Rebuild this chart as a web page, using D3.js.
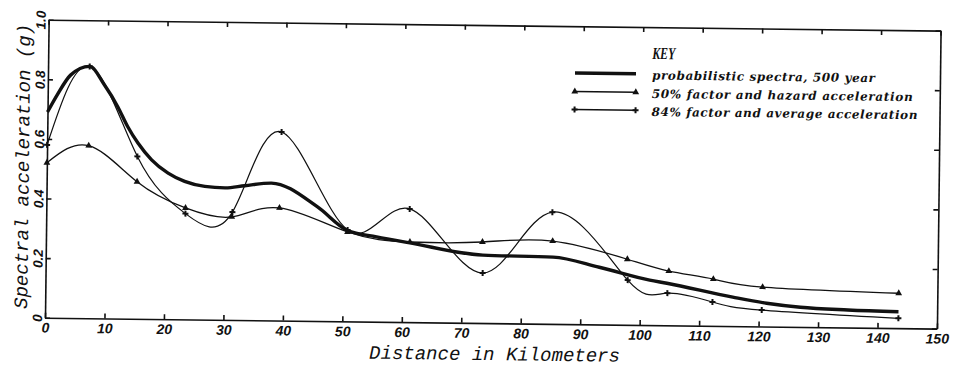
<!DOCTYPE html>
<html>
<head>
<meta charset="utf-8">
<script src="https://cdn.jsdelivr.net/npm/d3@7"></script>
<style>
  body { margin: 0; background: #fff; }
  svg { display: block; }
  .tick text { font-family: "Liberation Sans", Arial, sans-serif; font-style: italic; font-weight: bold; font-size: 14px; fill: #111; }
  .axis path, .axis line { stroke: #111; stroke-width: 1.6; }
  .title { font-family: "Liberation Mono", "Courier New", monospace; font-style: italic; font-size: 19px; fill: #111; }
  .key { font-family: "DejaVu Serif", serif; font-style: italic; font-weight: bold; font-size: 12px; fill: #111; }
</style>
</head>
<body>
<script>
// Data (distance in km, spectral acceleration in g).
const probKm = [0, 1.6, 3.8, 7, 9.5, 11.8, 13.5, 15.3, 17.6, 20.4, 23.2, 26.6, 30, 33.3, 37.8, 45.6, 50.7, 55.6, 61.2, 73.5, 85.3, 93.1, 101.6, 104.5, 115.6, 121.3, 127, 135, 143.5]
const probG = [0.69, 0.748, 0.815, 0.845, 0.784, 0.711, 0.645, 0.589, 0.534, 0.49, 0.463, 0.447, 0.443, 0.451, 0.461, 0.383, 0.305, 0.285, 0.266, 0.228, 0.224, 0.192, 0.151, 0.141, 0.097, 0.078, 0.066, 0.059, 0.055]

const hazKm = [0, 7, 15.2, 23.4, 31.2, 39.2, 50.7, 61.2, 73.4, 85.2, 97.8, 104.8, 112.3, 120.6, 143.5]
const hazG = [0.52, 0.579, 0.46, 0.374, 0.346, 0.378, 0.30, 0.269, 0.272, 0.278, 0.22, 0.182, 0.157, 0.132, 0.117]

const avgKm = [0, 7, 15.2, 23.4, 31.3, 39.4, 50.7, 61.1, 73.5, 85.1, 97.9, 104.6, 112.2, 120.5, 143.5]
const avgG = [0.58, 0.845, 0.545, 0.355, 0.362, 0.633, 0.307, 0.38, 0.168, 0.375, 0.15, 0.108, 0.08, 0.055, 0.033]

const xTicks = [0, 10, 20, 30, 40, 50, 60, 70, 80, 90, 100, 110, 120, 130, 140, 150]
const yTicks = [0, 0.2, 0.4, 0.6, 0.8, 1.0]
const keyLabels = ['probabilistic spectra, 500 year', '50% factor and hazard acceleration', '84% factor and average acceleration']

// Plot frame (the scan is tilted a little, so the whole frame is rotated).
const origin = { x: 45, y: 317.7 }
const width = 892
const height = 298
const tilt = 0.7

const svg = d3.select('body')
  .append('svg')
    .attr('width', 953)
    .attr('height', 367)

const g = svg.append('g')
    .attr('transform', `translate(${origin.x}, ${origin.y}) rotate(${tilt})`)

// Scales.
const x = d3.scaleLinear().domain([0, 150]).range([0, width])
const y = d3.scaleLinear().domain([0, 1]).range([0, -height])

// Axes, ticks pointing inward.
g.append('g')
    .attr('class', 'axis')
    .call(d3.axisBottom(x).tickValues(xTicks).tickSize(-5).tickSizeOuter(0).tickPadding(5).tickFormat(d3.format('d')))

g.append('g')
    .attr('class', 'axis')
    .attr('transform', `translate(0, ${-height})`)
    .call(d3.axisTop(x).tickValues(xTicks).tickSize(-5).tickSizeOuter(0).tickFormat(''))

const yAxis = g.append('g')
    .attr('class', 'axis')
    .call(d3.axisLeft(y).tickValues(yTicks).tickSize(-5).tickSizeOuter(0).tickFormat(d3.format('.1f')))

yAxis.selectAll('.tick text')
    .attr('transform', 'rotate(-90)')
    .attr('x', 0)
    .attr('y', -3)
    .attr('dy', 0)
    .style('font-size', '13.5px')
    .style('text-anchor', 'middle')
yAxis.selectAll('.tick text').filter(d => d === 0).text('0')

g.append('g')
    .attr('class', 'axis')
    .attr('transform', `translate(${width}, 0)`)
    .call(d3.axisRight(y).tickValues(yTicks).tickSize(-5).tickSizeOuter(0).tickFormat(''))

// Axis titles.
g.append('text')
    .attr('class', 'title')
    .attr('x', 450)
    .attr('y', 37)
    .style('text-anchor', 'middle')
    .text('Distance in Kilometers')

g.append('text')
    .attr('class', 'title')
    .attr('transform', `translate(-18, ${-height / 2 - 2}) rotate(-90)`)
    .style('text-anchor', 'middle')
    .text('Spectral acceleration (g)')

// Lines.
const smooth = d3.line().x(d => x(d[0])).y(d => y(d[1])).curve(d3.curveNatural)
const monotone = d3.line().x(d => x(d[0])).y(d => y(d[1])).curve(d3.curveMonotoneX)

const prob = d3.zip(probKm, probG)
const haz = d3.zip(hazKm, hazG)
const avg = d3.zip(avgKm, avgG)

g.append('path')
    .attr('d', smooth(haz))
    .style('fill', 'none')
    .style('stroke', '#111')
    .style('stroke-width', 1.3)

g.append('path')
    .attr('d', smooth(avg))
    .style('fill', 'none')
    .style('stroke', '#111')
    .style('stroke-width', 1.2)

g.append('path')
    .attr('d', monotone(prob))
    .style('fill', 'none')
    .style('stroke', '#111')
    .style('stroke-width', 3.4)

// Markers.
const tri = d3.symbol().type(d3.symbolTriangle).size(20)
const cross = d3.symbol().type(d3.symbolCross).size(20)

g.selectAll('.tri')
  .data(haz)
  .enter().append('path')
    .attr('class', 'tri')
    .attr('transform', d => `translate(${x(d[0])}, ${y(d[1])})`)
    .attr('d', tri)
    .style('fill', '#111')

g.selectAll('.cross')
  .data(avg)
  .enter().append('path')
    .attr('class', 'cross')
    .attr('transform', d => `translate(${x(d[0])}, ${y(d[1])})`)
    .attr('d', cross)
    .style('fill', '#111')

// Key.
const key = svg.append('g')
    .attr('transform', `translate(575, 73) rotate(${tilt})`)

key.append('text')
    .attr('x', 77)
    .attr('y', -15)
    .attr('textLength', 23)
    .attr('lengthAdjust', 'spacingAndGlyphs')
    .style('font-family', '"Liberation Serif", serif')
    .style('font-style', 'italic')
    .style('font-weight', 'bold')
    .style('font-size', '17px')
    .style('fill', '#111')
    .text('KEY')

const rowY = [0, 18.5, 36.5]
const rowLen = [223, 261, 266]

key.selectAll('.label')
  .data(keyLabels)
  .enter().append('text')
    .attr('class', 'key')
    .attr('x', 77)
    .attr('y', (d, i) => rowY[i] + 5.5)
    .attr('textLength', (d, i) => rowLen[i])
    .text(d => d)

key.selectAll('.swatch')
  .data(rowY)
  .enter().append('line')
    .attr('x1', 0)
    .attr('x2', 61)
    .attr('y1', d => d)
    .attr('y2', d => d)
    .style('stroke', '#111')
    .style('stroke-width', (d, i) => i === 0 ? 3.4 : 1.3)

key.selectAll('.ktri')
  .data([0, 61])
  .enter().append('path')
    .attr('transform', d => `translate(${d}, ${rowY[1]})`)
    .attr('d', tri)
    .style('fill', '#111')

key.selectAll('.kcross')
  .data([0, 61])
  .enter().append('path')
    .attr('transform', d => `translate(${d}, ${rowY[2]})`)
    .attr('d', cross)
    .style('fill', '#111')
</script>
</body>
</html>
